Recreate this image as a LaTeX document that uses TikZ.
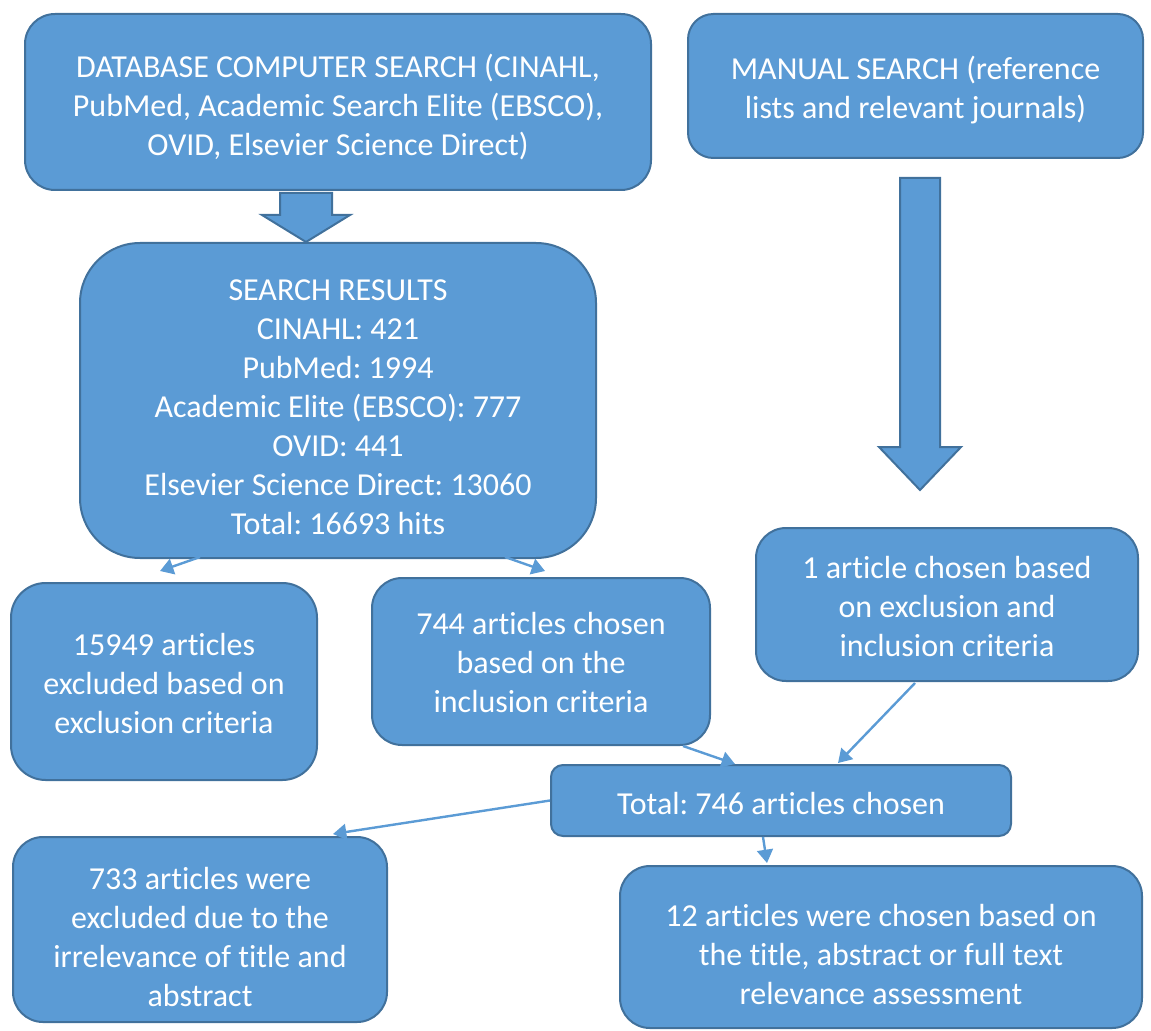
\documentclass[tikz,border=0pt]{standalone}
\usepackage{fontspec}
\setmainfont{Carlito}[Ligatures={NoCommon,NoContextual},Contextuals=NoAlternate]
\usetikzlibrary{arrows.meta, calc}
\frenchspacing

\definecolor{boxfill}{HTML}{5B9BD5}
\definecolor{boxline}{HTML}{41719C}

% invisible strut that pushes a box's text down a little
\newcommand{\topstrut}[1]{\rule{0pt}{#1}}

\begin{document}
\begin{tikzpicture}[x=0.75pt, y=-0.75pt]

        % Setup the styles for the boxes and arrows
        \tikzset{box style/.style={rectangle,
                                   draw=boxline,
                                   fill=boxfill,
                                   line width=1.5pt,
                                   inner sep=0pt,
                                   align=center,
                                   text=white,
                                   font=\fontsize{24}{29.3}\selectfont
                                   },
                 link/.style={draw=boxfill,
                              line width=1.8pt,
                              -{Triangle[width=12pt,length=10pt]}
                              },
                 block arrow/.style={draw=boxline,
                                     fill=boxfill,
                                     line width=1.5pt,
                                     line join=miter
                                     }}

        \useasboundingbox (0,0) rectangle (1151,1030);

        % Draw the boxes
        \node[box style, minimum width=469.5pt, minimum height=132pt, rounded corners=22.5pt]
            at (338, 102)   (Database)  {\topstrut{24.5pt}DATABASE COMPUTER SEARCH (CINAHL,\\PubMed, Academic Search Elite (EBSCO),\\OVID, Elsevier Science Direct)};
        \node[box style, minimum width=341.25pt, minimum height=108pt, rounded corners=19pt]
            at (915.5, 86)  (Manual)    {\topstrut{23.7pt}MANUAL SEARCH (reference\\lists and relevant journals)};
        \node[box style, minimum width=387pt, minimum height=236.25pt, rounded corners=45pt]
            at (338, 400.5) (Results)   {\topstrut{26pt}SEARCH RESULTS\\CINAHL: 421\\PubMed: 1994\\Academic Elite (EBSCO): 777\\OVID: 441\\Elsevier Science Direct: 13060\\Total: 16693 hits};
        \node[box style, minimum width=229.5pt, minimum height=147.75pt, rounded corners=26pt]
            at (164, 681.5) (Excluded)  {\topstrut{20pt}15949 articles\\excluded based on\\exclusion criteria};
        \node[box style, minimum width=253.5pt, minimum height=125.25pt, rounded corners=22.5pt]
            at (541, 661.5) (Included)  {\topstrut{18.5pt}744 articles chosen\\based on the\\inclusion criteria};
        \node[box style, minimum width=286.5pt, minimum height=114.75pt, rounded corners=22.5pt]
            at (947, 604.5) (OneArticle) {\topstrut{20pt}1 article chosen based\\on exclusion and\\inclusion criteria};
        \node[box style, minimum width=345pt, minimum height=53.25pt, rounded corners=9pt]
            at (781, 800.5) (Total)     {\topstrut{21.5pt}Total: 746 articles chosen};
        \node[box style, minimum width=280.5pt, minimum height=138.75pt, rounded corners=22.5pt]
            at (200, 929.5) (Irrelevant) {\topstrut{27.5pt}733 articles were\\excluded due to the\\irrelevance of title and\\abstract};
        \node[box style, minimum width=391.5pt, minimum height=121.5pt, rounded corners=22.5pt]
            at (881, 947)   (Chosen)    {\topstrut{27.5pt}12 articles were chosen based on\\the title, abstract or full text\\relevance assessment};

        % Draw the block arrows
        \draw[block arrow] (280,193) -- (332,193) -- (332,215) -- (350,215) -- (306,242)
                           -- (262,215) -- (280,215) -- cycle;
        \draw[block arrow] (900,178) -- (940,178) -- (940,447) -- (961,447) -- (920,490)
                           -- (879,447) -- (900,447) -- cycle;

        % Connect the boxes with arrows
        \draw[link] ($(Results.south)+(-138,-2)$) -- ($(Excluded.north)+(-4,-11)$);
        \draw[link] ($(Results.south)+(167,-2)$)  -- ($(Included.north)+(4,-6)$);
        \draw[link] ($(Included.south)+(142,0)$)  -- ($(Total.north)+(-46,0)$);
        \draw[link] ($(OneArticle.south)+(-32,1)$) -- ($(Total.north)+(57,-1)$);
        \draw[link] (Total.west) -- ($(Irrelevant.north)+(133,-2)$);
        \draw[link] ($(Total.south)+(-18,0)$) -- ($(Chosen.north)+(-114,-2)$);
      \end{tikzpicture}
\end{document}
